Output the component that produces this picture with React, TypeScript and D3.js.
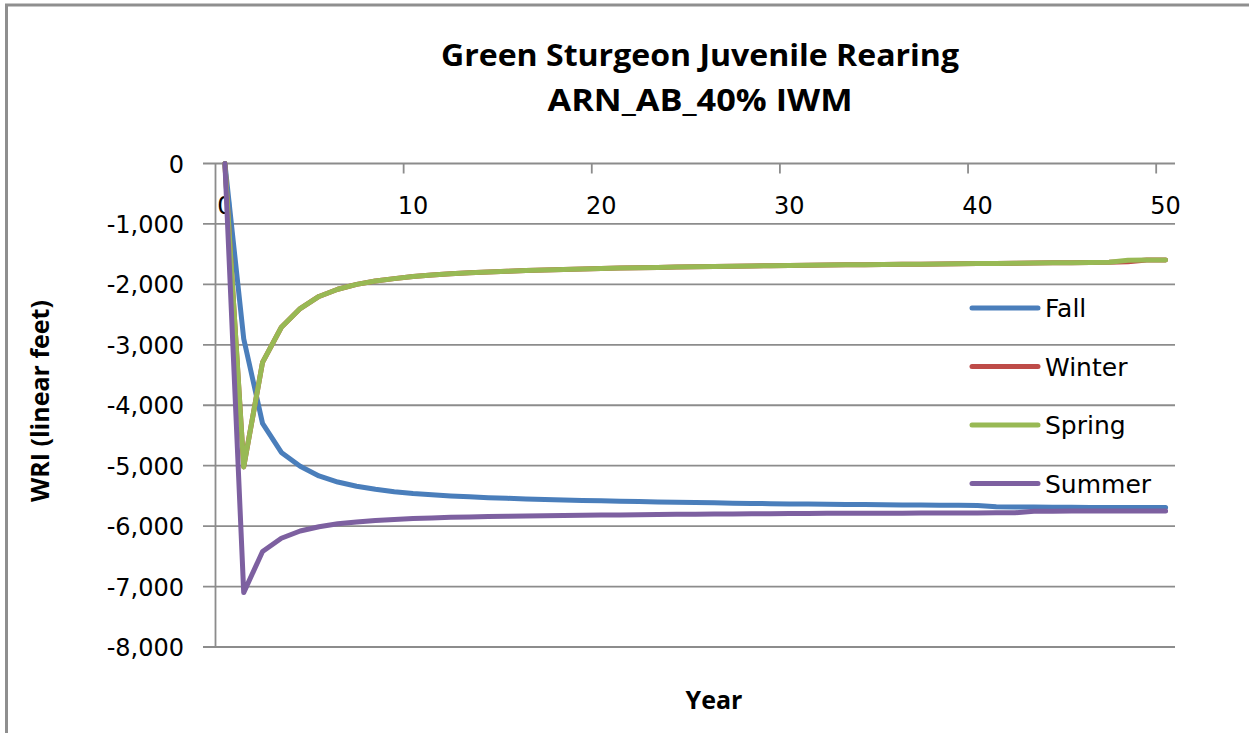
import React from "react";
import * as d3 from "d3";

const years = [0,1,2,3,4,5,6,7,8,9,10,11,12,13,14,15,16,17,18,19,20,21,22,23,24,25,26,27,28,29,30,31,32,33,34,35,36,37,38,39,40,41,42,43,44,45,46,47,48,49,50];

const fall = [0,-2900,-4300,-4780,-5010,-5170,-5270,-5340,-5390,-5430,-5460,-5480,-5500,-5515,-5530,-5540,-5550,-5560,-5568,-5575,-5582,-5588,-5594,-5600,-5605,-5610,-5615,-5620,-5624,-5628,-5632,-5635,-5638,-5641,-5644,-5647,-5650,-5652,-5654,-5656,-5658,-5680,-5682,-5684,-5686,-5688,-5690,-5690,-5690,-5690,-5690];

const winter = [0,-5020,-3290,-2710,-2400,-2200,-2080,-2000,-1945,-1905,-1870,-1845,-1825,-1808,-1795,-1783,-1772,-1762,-1753,-1745,-1738,-1731,-1725,-1719,-1713,-1708,-1703,-1699,-1695,-1691,-1687,-1683,-1680,-1677,-1674,-1671,-1668,-1665,-1662,-1659,-1656,-1653,-1650,-1647,-1644,-1641,-1638,-1635,-1625,-1598,-1596];

const spring = [0,-5020,-3290,-2710,-2400,-2200,-2080,-2000,-1945,-1905,-1870,-1845,-1825,-1808,-1795,-1783,-1772,-1762,-1753,-1745,-1738,-1731,-1725,-1719,-1713,-1708,-1703,-1699,-1695,-1691,-1687,-1683,-1680,-1677,-1674,-1671,-1668,-1665,-1662,-1659,-1656,-1653,-1650,-1647,-1644,-1641,-1638,-1635,-1600,-1598,-1596];

const summer = [0,-7100,-6420,-6200,-6080,-6010,-5960,-5930,-5905,-5890,-5875,-5865,-5855,-5848,-5842,-5836,-5832,-5828,-5824,-5820,-5817,-5814,-5811,-5808,-5805,-5802,-5800,-5798,-5796,-5794,-5792,-5790,-5789,-5788,-5787,-5786,-5785,-5784,-5783,-5782,-5781,-5780,-5780,-5755,-5752,-5750,-5750,-5750,-5750,-5750,-5750];

const seriesNames = ["Fall", "Winter", "Spring", "Summer"];
const seriesColors = ["#4A7EBB", "#BE4B48", "#98B954", "#7D60A0"];
const seriesValues = [fall, winter, spring, summer];

const yTicks = [0, -1000, -2000, -3000, -4000, -5000, -6000, -7000, -8000];
const xTickYears = [10, 20, 30, 40, 50];
const xLabelYears = [0, 10, 20, 30, 40, 50];

const W = 1249;
const H = 733;
const L = 215.5, R = 1175, T = 163.5, B = 647;

export default function App() {
  const x = d3.scaleBand<number>().domain(years).range([L, R]).padding(0);
  const bw = x.bandwidth();
  const cx = (yr: number) => (x(yr) as number) + bw / 2;
  const y = d3.scaleLinear().domain([-8000, 0]).range([B, T]);
  const fmtBase = d3.format(",");
  const fmt = (v: number) => fmtBase(v).replace("\u2212", "-");
  const line = d3
    .line<number>()
    .x((_, i) => cx(years[i]))
    .y((v) => y(v));

  const gridColor = "#8c8c8c";
  const tickFont = "'DejaVu Sans', sans-serif";
  const legendX1 = 972, legendX2 = 1038;
  const legendY0 = 308, legendStep = 58.5;

  return (
    <svg
      width={W}
      height={H}
      style={{ position: "absolute", left: 0, top: 0, background: "#fff" }}
    >
      <rect x={0} y={0} width={W} height={H} fill="#fff" />
      <rect x={6.5} y={5} width={1600} height={900} fill="none" stroke="#8f8f8f" strokeWidth={3} />

      {/* title */}
      <text x={700} y={66} textAnchor="middle" fontFamily="'Open Sans', sans-serif" fontWeight="bold" fontSize={30} textLength={518} lengthAdjust="spacingAndGlyphs" fill="#000">
        Green Sturgeon Juvenile Rearing
      </text>
      <text x={700} y={111} textAnchor="middle" fontFamily="'Open Sans', sans-serif" fontWeight="bold" fontSize={30} textLength={305} lengthAdjust="spacingAndGlyphs" fill="#000">
        ARN_AB_40% IWM
      </text>

      {/* horizontal gridlines + y ticks */}
      {yTicks.map((t) => (
        <line key={"g" + t} x1={203} x2={R} y1={y(t)} y2={y(t)} stroke={gridColor} strokeWidth={1.8} />
      ))}
      {yTicks.map((t) => (
        <text key={"yl" + t} x={184} y={y(t) + 9} textAnchor="end" fontFamily={tickFont} fontSize={24} fill="#000">
          {fmt(t)}
        </text>
      ))}

      {/* y axis line */}
      <line x1={L} x2={L} y1={T} y2={B} stroke={gridColor} strokeWidth={1.8} />

      {/* x axis ticks & labels */}
      {xTickYears.map((t) => (
        <line key={"xt" + t} x1={x(t) as number} x2={x(t) as number} y1={T} y2={T + 10} stroke={gridColor} strokeWidth={1.8} />
      ))}
      {xLabelYears.map((t) => (
        <text key={"xl" + t} x={cx(t)} y={214} textAnchor="middle" fontFamily={tickFont} fontSize={24} fill="#000">
          {t}
        </text>
      ))}

      {/* series */}
      {seriesValues.map((vals, i) => (
        <path key={seriesNames[i]} d={line(vals) as string} fill="none" stroke={seriesColors[i]} strokeWidth={5} strokeLinejoin="round" strokeLinecap="round" />
      ))}

      {/* legend */}
      {seriesNames.map((n, i) => (
        <g key={"lg" + n}>
          <line x1={legendX1} x2={legendX2} y1={legendY0 + i * legendStep} y2={legendY0 + i * legendStep} stroke={seriesColors[i]} strokeWidth={5} strokeLinecap="round" />
          <text x={1045} y={legendY0 + i * legendStep + 9} fontFamily={tickFont} fontSize={25} fill="#000">
            {n}
          </text>
        </g>
      ))}

      {/* axis titles */}
      <text x={714} y={709} textAnchor="middle" fontFamily="'Open Sans', sans-serif" fontWeight="bold" fontSize={25} fill="#000">
        Year
      </text>
      <text transform="translate(49,401) rotate(-90)" textAnchor="middle" fontFamily="'Open Sans', sans-serif" fontWeight="bold" fontSize={25} fill="#000">
        WRI (linear feet)
      </text>
    </svg>
  );
}
